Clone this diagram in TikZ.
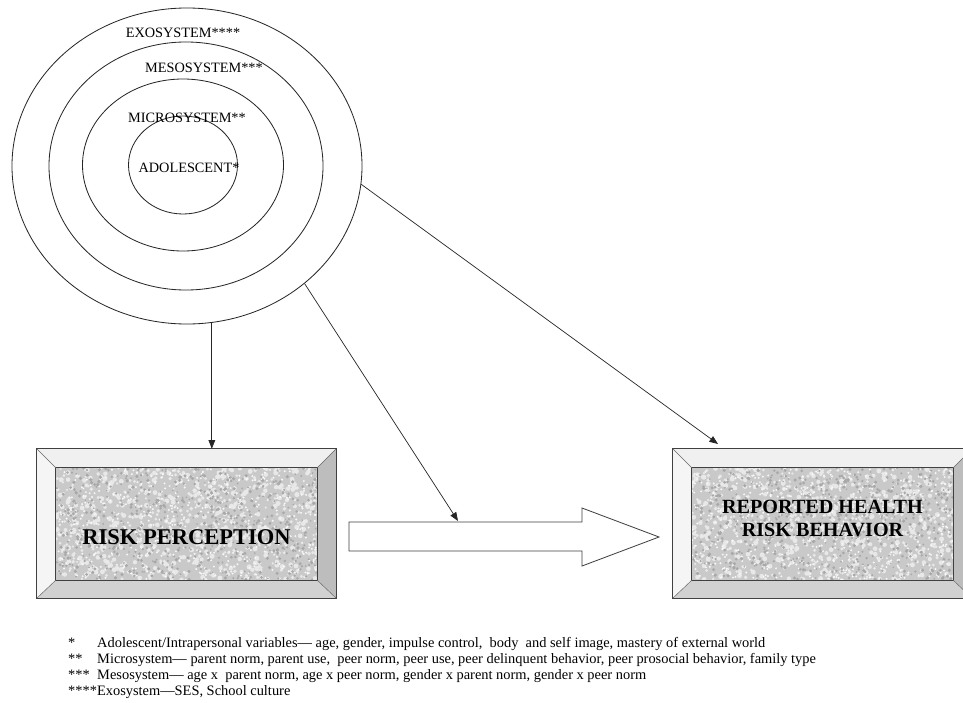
\documentclass[tikz,border=0pt]{standalone}
\usepackage{fontspec}
\setmainfont{Liberation Serif}
\usetikzlibrary{shapes.geometric,arrows.meta,calc}
\tikzstyle{ring}=[ellipse,draw=black!85,line width=0.7pt,inner sep=0pt]
\tikzstyle{ringlabel}=[inner sep=0pt,font=\fontsize{12.2}{14}\selectfont]
\tikzstyle{slab}=[rectangle,inner sep=0pt,minimum width=8.97cm,minimum height=4.47cm]
\tikzstyle{slabtext}=[align=center,inner sep=0pt,font=\bfseries\fontsize{19.2}{20}\selectfont]
\tikzstyle{link}=[draw=black!85,line width=0.6pt,-{Triangle[length=2.6mm,width=2mm]}]
\tikzstyle{bigarrow}=[draw=black!75,fill=white,line width=0.7pt]
\tikzstyle{note}=[anchor=base west,inner sep=0pt,font=\fontsize{12.3}{14}\selectfont]
\newcommand{\slabframe}[1]{%
  \coordinate (#1a) at ($(#1.north west)+(19,19)$);
  \coordinate (#1b) at ($(#1.south east)+(-19,-18)$);
  \fill[gray!12] (#1.north west) -- (#1.north east) -- (#1b |- #1a) -- (#1a) -- cycle;
  \fill[gray!8] (#1.north west) -- (#1.south west) -- (#1a |- #1b) -- (#1a) -- cycle;
  \fill[gray!36] (#1.south west) -- (#1.south east) -- (#1b) -- (#1a |- #1b) -- cycle;
  \fill[gray!52] (#1.north east) -- (#1.south east) -- (#1b) -- (#1b |- #1a) -- cycle;
  \fill[gray!42] (#1a) rectangle (#1b);
  \begin{scope}
    \clip (#1a) rectangle (#1b);
    \begin{scope}[shift={(#1a)}]
      \foreach \k in {1,...,700}{
        \pgfmathsetmacro{\gx}{rnd*262}\pgfmathsetmacro{\gy}{rnd*112}
        \pgfmathsetmacro{\gr}{1.2+rnd*1.4}
        \fill[gray!18] (\gx,\gy) circle (\gr);}
      \foreach \k in {1,...,600}{
        \pgfmathsetmacro{\gx}{rnd*262}\pgfmathsetmacro{\gy}{rnd*112}
        \fill[gray!6] (\gx,\gy) circle (1.1);}
      \foreach \k in {1,...,650}{
        \pgfmathsetmacro{\gx}{rnd*262}\pgfmathsetmacro{\gy}{rnd*112}
        \pgfmathsetmacro{\gr}{0.8+rnd*1.0}
        \fill[gray!68] (\gx,\gy) circle (\gr);}
    \end{scope}
  \end{scope}
  \draw[black!75,line width=0.6pt] (#1.north west) rectangle (#1.south east);
  \draw[black!75,line width=0.6pt] (#1a) rectangle (#1b);
  \draw[black!60,line width=0.4pt] (#1.north west) -- (#1a) (#1.south west) -- (#1a |- #1b)
    (#1.north east) -- (#1b |- #1a) (#1.south east) -- (#1b);
}

\begin{document}
\begin{tikzpicture}[x=0.03cm,y=-0.03cm]
  \pgfmathsetseed{4242}
  \useasboundingbox (0,0) rectangle (963,702);
  \fill[white] (0,0) rectangle (963,702);
  \clip (0,0) rectangle (963,702);

  \node (exo)   at (187,166) [ring,minimum width=10.5cm,minimum height=9.48cm]{};
  \node (meso)  at (186,166) [ring,minimum width=8.22cm,minimum height=7.44cm]{};
  \node (micro) at (183,165) [ring,minimum width=6.03cm,minimum height=5.16cm]{};
  \node (adol)  at (183,165) [ring,minimum width=3.27cm,minimum height=2.94cm]{};
  \node (exolab)   at (183,33)  [ringlabel]{EXOSYSTEM****};
  \node (mesolab)  at (204,68)  [ringlabel]{MESOSYSTEM***};
  \node (microlab) at (187,118) [ringlabel]{MICROSYSTEM**};
  \node (adollab)  at (189,168) [ringlabel]{ADOLESCENT*};

  \node (rp)  at (186.5,523.5) [slab]{};
  \node (rhb) at (822.5,523.5) [slab]{};
  \slabframe{rp}
  \slabframe{rhb}
  \node (rptext)  at ($(rp)+(0,14)$) [slabtext]{RISK PERCEPTION};
  \node (rhbtext) at ($(rhb)+(0,-5)$) [slabtext,font=\bfseries\fontsize{17.2}{19.5}\selectfont]
    {REPORTED HEALTH\\RISK BEHAVIOR};

  \draw[bigarrow] (349,522) -- (582,522) -- (582,508) -- (659,537) -- (582,566)
    -- (582,551) -- (349,551) -- cycle;
  \coordinate (hatop) at (458,521);
  \coordinate (rhbtop) at (718,444);

  \draw[link] (exo.-81) -- (exo.-81 |- rp.north);
  \draw[link] (exo.-45) -- (hatop);
  \draw[link] (exo.-6) -- (rhbtop);

  \node (n1s) at (68,647)  [note]{*};
  \node (n1)  at (97,647)  [note]{Adolescent/Intrapersonal variables— age, gender, impulse control,\ \ body\ \ and self image, mastery of external world};
  \node (n2s) at (68,663)  [note]{**};
  \node (n2)  at (97,663)  [note]{Microsystem— parent norm, parent use,\ \ peer norm, peer use, peer delinquent behavior, peer prosocial behavior, family type};
  \node (n3s) at (68,679)  [note]{***};
  \node (n3)  at (97,679)  [note]{Mesosystem— age x\ \ parent norm, age x peer norm, gender x parent norm, gender x peer norm};
  \node (n4)  at (68,695)  [note]{****Exosystem—SES, School culture};
\end{tikzpicture}
\end{document}
